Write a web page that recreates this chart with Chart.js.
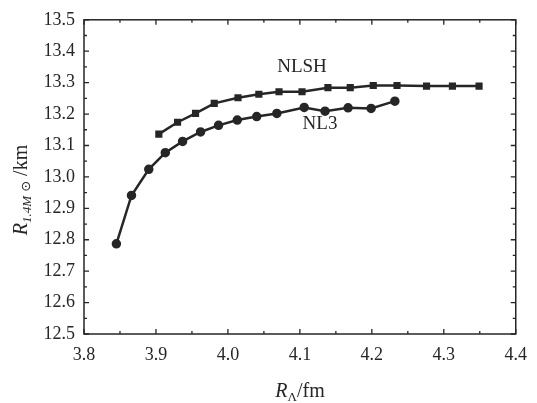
<!DOCTYPE html>
<html>
<head>
<meta charset="utf-8">
<script src="https://cdn.jsdelivr.net/npm/chart.js@4"></script>
<style>
  html, body { margin: 0; padding: 0; background: #ffffff; }
  #wrap { width: 537px; height: 403px; }
</style>
</head>
<body>
<div id="wrap"><canvas id="grafico"></canvas></div>
<script>
// R_Lambda (fm) and R_1.4M (km)
const nlshX = [3.904, 3.930, 3.955, 3.981, 4.014, 4.043, 4.071, 4.103, 4.139, 4.170, 4.202, 4.235, 4.276, 4.312, 4.349];
const nlshY = [13.136, 13.174, 13.202, 13.234, 13.252, 13.263, 13.271, 13.271, 13.284, 13.284, 13.291, 13.291, 13.289, 13.289, 13.289];
const nl3X = [3.845, 3.866, 3.890, 3.913, 3.937, 3.962, 3.987, 4.013, 4.040, 4.068, 4.106, 4.135, 4.167, 4.199, 4.232];
const nl3Y = [12.787, 12.941, 13.024, 13.077, 13.113, 13.143, 13.164, 13.181, 13.192, 13.202, 13.221, 13.209, 13.220, 13.218, 13.241];
const seriesNames = ['NLSH', 'NL3'];
const xTicks = [3.8, 3.9, 4.0, 4.1, 4.2, 4.3, 4.4];
const yTicks = [12.5, 12.6, 12.7, 12.8, 12.9, 13.0, 13.1, 13.2, 13.3, 13.4, 13.5];

const ink = '#262626';
const serif = '"Liberation Serif", "DejaVu Serif", serif';

function toPoints(xs, ys) {
    return xs.map((x, i) => ({x: x, y: ys[i]}));
}

// ticks pointing inward on all four sides, plus frame
const frameTicks = {
    id: 'frameTicks',
    afterDraw(chart) {
        const ctx = chart.ctx;
        const a = chart.chartArea;
        const xs = chart.scales.x, ys = chart.scales.y;
        ctx.save();
        ctx.strokeStyle = ink;
        ctx.lineWidth = 1.5;
        ctx.strokeRect(a.left, a.top, a.right - a.left, a.bottom - a.top);
        ctx.lineWidth = 1.3;
        for (let v = 3.8; v <= 4.4001; v += 0.05) {
            let major = Math.abs(Math.round(v * 10) - v * 10) < 0.01;
            let len = major ? 5 : 3;
            let px = xs.getPixelForValue(v);
            ctx.beginPath();
            ctx.moveTo(px, a.bottom); ctx.lineTo(px, a.bottom - len);
            ctx.moveTo(px, a.top); ctx.lineTo(px, a.top + len);
            ctx.stroke();
        }
        for (let v = 12.5; v <= 13.5001; v += 0.05) {
            let major = Math.abs(Math.round(v * 10) - v * 10) < 0.01;
            let len = major ? 5 : 3;
            let py = ys.getPixelForValue(v);
            ctx.beginPath();
            ctx.moveTo(a.left, py); ctx.lineTo(a.left + len, py);
            ctx.moveTo(a.right, py); ctx.lineTo(a.right - len, py);
            ctx.stroke();
        }
        ctx.restore();
    }
};

// axis titles with subscripts and curve names
const labels = {
    id: 'labels',
    afterDraw(chart) {
        const ctx = chart.ctx;
        ctx.save();
        ctx.fillStyle = ink;
        ctx.textBaseline = 'alphabetic';

        // x title: R_Λ/fm
        let parts = [
            {t: 'R', f: 'italic 20px ' + serif, dy: 0},
            {t: 'Λ', f: '13px ' + serif, dy: 4},
            {t: '/fm', f: '20px ' + serif, dy: 0}
        ];
        drawParts(ctx, parts, 300, 397);

        // y title: R_1.4M⊙/km rotated
        ctx.save();
        ctx.translate(27, 190);
        ctx.rotate(-Math.PI / 2);
        parts = [
            {t: 'R', f: 'italic 20px ' + serif, dy: 0},
            {t: '1.4M', f: 'italic 13px ' + serif, dy: 4},
            {t: ' ⊙', f: '13px "DejaVu Sans", sans-serif', dy: 3},
            {t: ' /km', f: '20px ' + serif, dy: 0}
        ];
        drawParts(ctx, parts, 0, 0);
        ctx.restore();

        ctx.font = '19px ' + serif;
        ctx.textAlign = 'center';
        ctx.textBaseline = 'middle';
        ctx.fillText(seriesNames[0], 302, 67);
        ctx.fillText(seriesNames[1], 320, 124);
        ctx.restore();
    }
};

function drawParts(ctx, parts, cx, baseY) {
    let w = 0;
    parts.forEach(p => { ctx.font = p.f; p.w = ctx.measureText(p.t).width; w += p.w; });
    let x = cx - w / 2;
    ctx.textAlign = 'left';
    parts.forEach(p => {
        ctx.font = p.f;
        ctx.fillText(p.t, x, baseY + p.dy);
        x += p.w;
    });
}

const data = {
    datasets: [{
        label: seriesNames[0],
        data: toPoints(nlshX, nlshY),
        showLine: true,
        borderColor: ink,
        backgroundColor: ink,
        borderWidth: 2.5,
        pointStyle: 'rect',
        pointRadius: 3.3,
        tension: 0
    }, {
        label: seriesNames[1],
        data: toPoints(nl3X, nl3Y),
        showLine: true,
        borderColor: ink,
        backgroundColor: ink,
        borderWidth: 2.5,
        pointStyle: 'circle',
        pointRadius: 3.5,
        tension: 0
    }]
};

const config = {
    type: 'scatter',
    data: data,
    plugins: [frameTicks, labels],
    options: {
        responsive: true,
        maintainAspectRatio: false,
        animation: false,
        layout: {
            padding: {left: 0, right: 14, top: 15, bottom: 0}
        },
        plugins: {
            legend: false,
            tooltip: false
        },
        scales: {
            x: {
                type: 'linear',
                min: 3.8,
                max: 4.4,
                afterBuildTicks: s => { s.ticks = xTicks.map(v => ({value: v})); },
                afterFit: s => { s.height = 69; },
                grid: {display: false, drawTicks: false},
                border: {display: false},
                ticks: {
                    padding: 10,
                    color: ink,
                    font: {family: serif, size: 18},
                    callback: v => v.toFixed(1)
                }
            },
            y: {
                type: 'linear',
                min: 12.5,
                max: 13.5,
                afterBuildTicks: s => { s.ticks = yTicks.map(v => ({value: v})); },
                afterFit: s => { s.width = 84; },
                grid: {display: false, drawTicks: false},
                border: {display: false},
                ticks: {
                    padding: 9,
                    color: ink,
                    font: {family: serif, size: 18},
                    callback: v => v.toFixed(1)
                }
            }
        }
    }
};

new Chart(document.getElementById('grafico').getContext('2d'), config);
</script>
</body>
</html>
